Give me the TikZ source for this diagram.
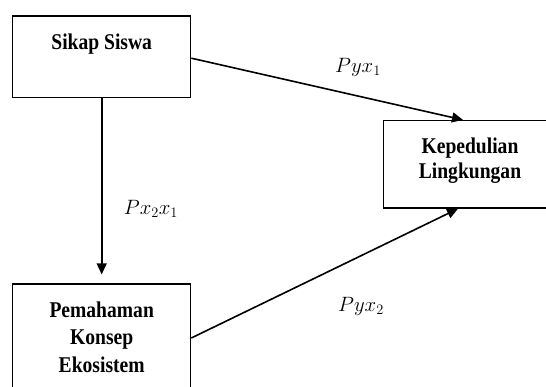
\documentclass[tikz,border=0pt]{standalone}
\usepackage{fontspec}
\setmainfont{Liberation Serif}
\newfontfamily\boxfont[FakeStretch=0.87]{Liberation Serif Bold}
\usetikzlibrary{arrows.meta}
\tikzset{
  box/.style={draw, line width=1.3pt, inner sep=0pt},
  boxtext/.style={font=\fontsize{22.5}{25}\selectfont\boxfont, align=center, inner sep=0pt},
  lab/.style={font=\fontsize{20}{24}\selectfont, inner sep=0pt},
  conn/.style={line width=1.6pt, -{Triangle[length=11pt,width=10pt]}}
}
\begin{document}
\begin{tikzpicture}[x=1pt,y=-1pt]
\clip (0,0) rectangle (546,387);
\fill[white] (0,0) rectangle (546,387);
\node[box, minimum width=178pt, minimum height=81.3pt] (sikap) at (101.7,56.7) {};
\node[boxtext] (sikapt) at (101.7,44) {Sikap Siswa};
\node[box, minimum width=173pt, minimum height=87.5pt] (kep) at (470,164.3) {};
\node[boxtext] (kept) at (470,160.5) {Kepedulian\\Lingkungan};
\node[box, minimum width=178pt, minimum height=108pt] (pema) at (101.7,338) {};
\node[boxtext, font=\fontsize{22.5}{27.5}\selectfont\boxfont] (pemat) at (101.7,337) {Pemahaman\\Konsep\\Ekosistem};
\draw[conn] (sikap.south) -- ([yshift=9pt]pema.north);
\draw[conn] ([yshift=-1.5pt]sikap.east) -- ([xshift=-7pt]kep.north);
\draw[conn] (pema.east) -- ([xshift=-12pt]kep.south);
\node[lab] (l1) at (358,67) {$Pyx_1$};
\node[lab] (l2) at (151,209) {$Px_2x_1$};
\node[lab] (l3) at (361,306) {$Pyx_2$};
\end{tikzpicture}
\end{document}
